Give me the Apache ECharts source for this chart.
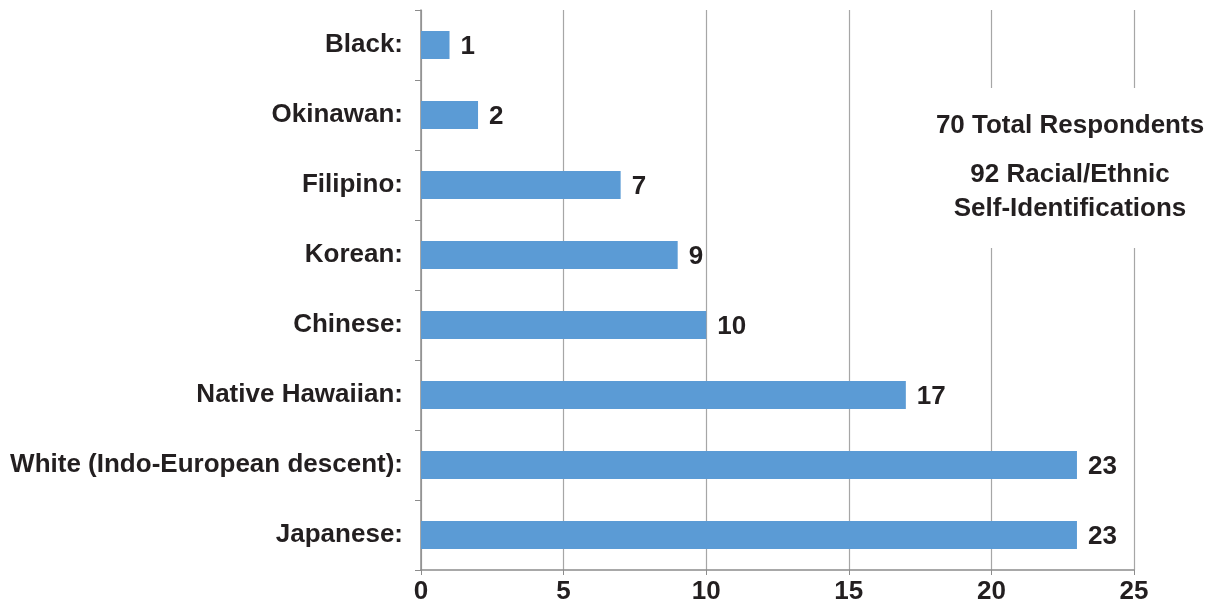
<!DOCTYPE html>
<html>
<head>
<meta charset="utf-8">
<script src="https://cdn.jsdelivr.net/npm/echarts@6/dist/echarts.min.js"></script>
<style>
  html, body { margin: 0; padding: 0; background: #fff; }
  #chart { width: 1218px; height: 605px; }
</style>
</head>
<body>
<div id="chart"></div>
<script>
// Self-identified racial/ethnic groups, listed top to bottom
const categories = [
  'Black:', 'Okinawan:', 'Filipino:', 'Korean:', 'Chinese:',
  'Native Hawaiian:', 'White (Indo-European descent):', 'Japanese:'
];
const counts = [1, 2, 7, 9, 10, 17, 23, 23];
const xTicks = [0, 5, 10, 15, 20, 25];
const noteLines = ['70 Total Respondents', '92 Racial/Ethnic', 'Self-Identifications'];

const FONT = 'Arial, "Liberation Sans", Helvetica, sans-serif';
const INK = '#231f20';
const FS = 26;

const chart = echarts.init(document.getElementById('chart'));

chart.setOption({
  animation: false,
  grid: { left: 421, right: 84, top: 10, bottom: 35, containLabel: false },
  xAxis: {
    type: 'value',
    min: xTicks[0],
    max: xTicks[xTicks.length - 1],
    interval: 5,
    axisLine: { show: true, lineStyle: { color: '#8c8c8c', width: 1.5 } },
    axisTick: { show: true, length: 5, lineStyle: { color: '#8c8c8c' } },
    splitLine: { show: true, lineStyle: { color: '#a6a6a6', width: 1.2 } },
    axisLabel: {
      margin: 9, color: INK, fontFamily: FONT, fontWeight: 'bold', fontSize: FS
    }
  },
  yAxis: {
    type: 'category',
    inverse: true,
    data: categories,
    axisLine: { show: true, lineStyle: { color: '#8c8c8c', width: 1.5 } },
    axisTick: { show: true, length: 6, alignWithLabel: false, lineStyle: { color: '#8c8c8c' } },
    axisLabel: {
      margin: 18, padding: [4, 0, 0, 0],
      color: INK, fontFamily: FONT, fontWeight: 'bold', fontSize: FS
    }
  },
  series: [{
    type: 'bar',
    data: counts,
    barWidth: 28,
    itemStyle: { color: '#5b9bd5' },
    label: {
      show: true, position: 'right', distance: 11, offset: [0, 2],
      color: INK, fontFamily: FONT, fontWeight: 'bold', fontSize: FS
    },
    z: 3
  }],
  graphic: [
    {
      type: 'rect',
      shape: { x: 925, y: 88, width: 285, height: 160 },
      style: { fill: '#ffffff' },
      z: 10
    },
    {
      type: 'text',
      x: 1070, y: 126,
      style: {
        text: noteLines[0], textAlign: 'center', textVerticalAlign: 'middle',
        fill: INK, font: 'bold ' + FS + 'px ' + FONT
      },
      z: 11
    },
    {
      type: 'text',
      x: 1070, y: 192,
      style: {
        text: noteLines[1] + '\n' + noteLines[2], textAlign: 'center', textVerticalAlign: 'middle',
        lineHeight: 34, fill: INK, font: 'bold ' + FS + 'px ' + FONT
      },
      z: 11
    }
  ]
});
</script>
</body>
</html>
